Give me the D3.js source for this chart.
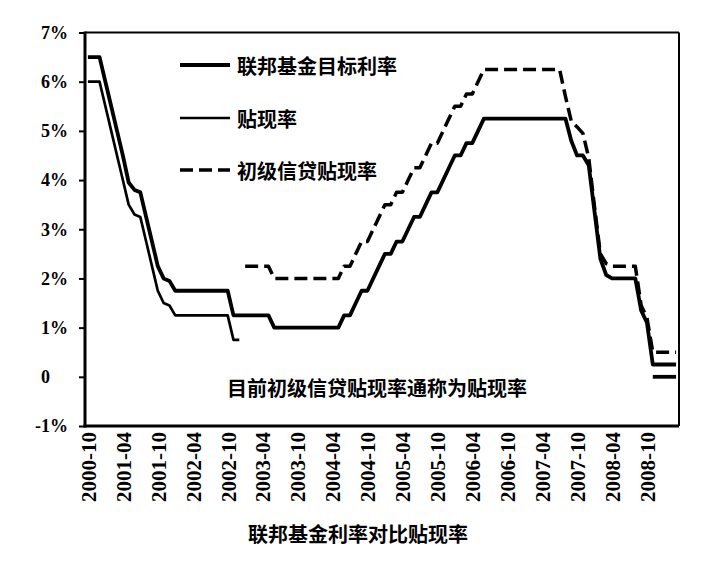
<!DOCTYPE html>
<html>
<head>
<meta charset="utf-8">
<script src="https://cdnjs.cloudflare.com/ajax/libs/d3/7.8.5/d3.min.js"></script>
<style>
  body { margin: 0; background: #fff; }
  svg { display: block; }
  .cn  { font-family: "Noto Sans CJK SC", sans-serif; font-weight: bold; font-size: 20px; fill: #000; }
  .num { font-family: "Liberation Serif", serif; font-weight: bold; fill: #000; }
</style>
</head>
<body>
<svg id="chart" width="727" height="563"></svg>
<script>
// # DATA
// # ------------------------------
// monthly categories 2000-10 .. 2009-03
var months = d3.timeMonth.range(new Date(2000, 9, 1), new Date(2009, 3, 1)).map(d3.timeFormat("%Y-%m"));

var tickLabels = ["2000-10", "2001-04", "2001-10", "2002-04", "2002-10", "2003-04", "2003-10",
                  "2004-04", "2004-10", "2005-04", "2005-10", "2006-04", "2006-10", "2007-04",
                  "2007-10", "2008-04", "2008-10"];

var yTicks = [-1, 0, 1, 2, 3, 4, 5, 6, 7];

// 联邦基金目标利率
var fedTarget = [
  6.5, 6.5, 6.5, 6.0, 5.5, 5.0, 4.5, 3.95, 3.8, 3.75, 3.25, 2.75, 2.25, 2.0, 1.95, 1.75,
  1.75, 1.75, 1.75, 1.75, 1.75, 1.75, 1.75, 1.75, 1.75,
  1.25, 1.25, 1.25, 1.25, 1.25, 1.25, 1.25,
  1.0, 1.0, 1.0, 1.0, 1.0, 1.0, 1.0, 1.0, 1.0, 1.0, 1.0, 1.0,
  1.25, 1.25, 1.5, 1.75, 1.75, 2.0, 2.25, 2.5, 2.5, 2.75, 2.75, 3.0, 3.25, 3.25, 3.5,
  3.75, 3.75, 4.0, 4.25, 4.5, 4.5, 4.75, 4.75, 5.0, 5.25,
  5.25, 5.25, 5.25, 5.25, 5.25, 5.25, 5.25, 5.25, 5.25, 5.25, 5.25, 5.25, 5.25, 5.25,
  4.8, 4.5, 4.5, 4.3, 3.35, 2.4, 2.07,
  2.0, 2.0, 2.0, 2.0, 2.0,
  1.35, 1.1,
  0.25, 0.25, 0.25, 0.25, 0.25
];

// 目标区间下限 (2008-12 以后)
var fedFloor = [
  null, null, null, null, null, null, null, null, null, null, null, null, null, null, null, null,
  null, null, null, null, null, null, null, null, null, null, null, null, null, null, null, null,
  null, null, null, null, null, null, null, null, null, null, null, null, null, null, null, null,
  null, null, null, null, null, null, null, null, null, null, null, null, null, null, null, null,
  null, null, null, null, null, null, null, null, null, null, null, null, null, null, null, null,
  null, null, null, null, null, null, null, null, null, null, null, null, null, null, null, null,
  null, 0, 0, 0, 0, 0
];

// 贴现率
var discountRate = [
  6.0, 6.0, 6.0, 5.5, 5.0, 4.5, 4.0, 3.5, 3.3, 3.25, 2.75, 2.25, 1.75, 1.5, 1.45, 1.25,
  1.25, 1.25, 1.25, 1.25, 1.25, 1.25, 1.25, 1.25, 1.25,
  0.75, 0.75
];

// 初级信贷贴现率
var primaryCredit = [
  null, null, null, null, null, null, null, null, null, null, null, null, null, null, null, null,
  null, null, null, null, null, null, null, null, null, null, null,
  2.25, 2.25, 2.25, 2.25, 2.25,
  2.0, 2.0, 2.0, 2.0, 2.0, 2.0, 2.0, 2.0, 2.0, 2.0, 2.0, 2.0,
  2.25, 2.25, 2.5, 2.75, 2.75, 3.0, 3.25, 3.5, 3.5, 3.75, 3.75, 4.0, 4.25, 4.25, 4.5,
  4.75, 4.75, 5.0, 5.25, 5.5, 5.5, 5.75, 5.75, 6.0, 6.25,
  6.25, 6.25, 6.25, 6.25, 6.25, 6.25, 6.25, 6.25, 6.25, 6.25, 6.25, 6.25, 6.25,
  5.7, 5.2, 5.08, 4.95, 4.45, 3.45, 2.5, 2.3,
  2.25, 2.25, 2.25, 2.25, 2.25,
  1.45, 1.2,
  0.5, 0.5, 0.5, 0.5, 0.5
];

var legendLabels = ["联邦基金目标利率", "贴现率", "初级信贷贴现率"];
var noteText  = "目前初级信贷贴现率通称为贴现率";
var titleText = "联邦基金利率对比贴现率";

// # LAYOUT
// # ------------------------------
var plotLeft = 85, plotRight = 679, plotTop = 32.5, plotBottom = 426;

var svg = d3.select("#chart");

var x = d3.scalePoint()
    .domain(months)
    .range([plotLeft, plotRight])
    .padding(0.5);

var y = d3.scaleLinear()
    .domain([-1, 7])
    .range([plotBottom, plotTop]);

var styles = {
  thick:  { width: 3.8, dash: null },
  thin:   { width: 2.7, dash: null },
  dashed: { width: 3.5, dash: "13,6" }
};

// ## series lines
// # ------------------------------
var line = d3.line()
    .defined(function(d) { return d != null; })
    .x(function(d, i) { return x(months[i]); })
    .y(function(d) { return y(d); });

var series = [
  { values: fedTarget,     style: styles.thick },
  { values: fedFloor,      style: styles.thick },
  { values: discountRate,  style: styles.thin },
  { values: primaryCredit, style: styles.dashed }
];

svg.append("g")
  .selectAll("path")
  .data(series)
  .enter()
  .append("path")
    .attr("d", function(d) { return line(d.values); })
    .attr("fill", "none")
    .attr("stroke", "#000")
    .attr("stroke-width", function(d) { return d.style.width; })
    .attr("stroke-dasharray", function(d) { return d.style.dash; })
    .attr("stroke-linejoin", "round");

// ## frame
// # ------------------------------
var frame = svg.append("g").attr("stroke", "#000");
frame.append("line").attr("x1", plotLeft).attr("x2", plotRight).attr("y1", plotTop).attr("y2", plotTop).attr("stroke-width", 1.8);
frame.append("line").attr("x1", plotRight).attr("x2", plotRight).attr("y1", plotTop).attr("y2", plotBottom).attr("stroke-width", 2);
frame.append("line").attr("x1", plotLeft).attr("x2", plotLeft).attr("y1", plotTop - 1).attr("y2", plotBottom + 1.5).attr("stroke-width", 3);
frame.append("line").attr("x1", plotLeft - 1.5).attr("x2", plotRight).attr("y1", plotBottom).attr("y2", plotBottom).attr("stroke-width", 3);

// ## y axis
// # ------------------------------
var yAxis = svg.append("g")
    .attr("transform", "translate(" + plotLeft + ",0)")
    .call(d3.axisLeft(y)
      .tickValues(yTicks)
      .tickSize(6)
      .tickPadding(11)
      .tickFormat(function(d) { return d === 0 ? "0" : d + "%"; }));

yAxis.select(".domain").remove();
yAxis.selectAll(".tick line").attr("stroke-width", 2);
yAxis.selectAll(".tick text")
    .attr("class", "num")
    .style("font-size", "18px")
    .attr("dx", function(d) { return d === 0 ? "-1em" : null; });

// ## x axis
// # ------------------------------
var xAxis = svg.append("g")
    .attr("transform", "translate(0," + plotBottom + ")")
    .call(d3.axisBottom(x).tickValues(tickLabels).tickSize(0));

xAxis.select(".domain").remove();
xAxis.selectAll(".tick text")
    .attr("class", "num")
    .style("font-size", "21px")
    .attr("transform", "rotate(-90)")
    .attr("text-anchor", "end")
    .attr("x", -6)
    .attr("y", 0)
    .attr("dy", "0.35em");

// ## legend
// # ------------------------------
var legendStyles = [styles.thick, styles.thin, styles.dashed];
var legendY = [65, 118, 170];

var legend = svg.append("g")
  .selectAll("g")
  .data(legendLabels)
  .enter()
  .append("g")
    .attr("transform", function(d, i) { return "translate(180," + legendY[i] + ")"; });

legend.append("line")
    .attr("x1", 0).attr("x2", 50)
    .attr("stroke", "#000")
    .attr("stroke-width", function(d, i) { return legendStyles[i].width; })
    .attr("stroke-dasharray", function(d, i) { return legendStyles[i].dash; });

legend.append("text")
    .attr("class", "cn")
    .attr("x", 57)
    .attr("dominant-baseline", "central")
    .text(function(d) { return d; });

// ## notes
// # ------------------------------
svg.append("text")
    .attr("class", "cn")
    .attr("x", 227)
    .attr("y", 387)
    .attr("dominant-baseline", "central")
    .text(noteText);

svg.append("text")
    .attr("class", "cn")
    .attr("x", 358)
    .attr("y", 533)
    .attr("text-anchor", "middle")
    .attr("dominant-baseline", "central")
    .text(titleText);
</script>
</body>
</html>
